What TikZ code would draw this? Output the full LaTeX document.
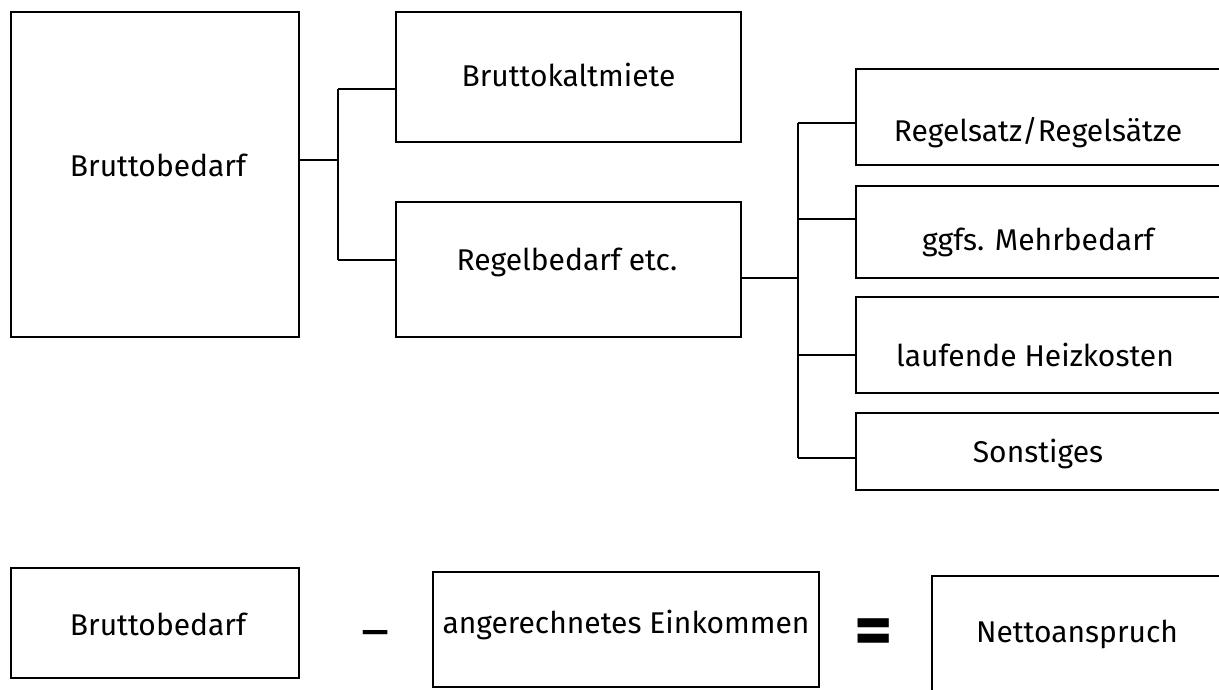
\documentclass[tikz,border=0pt]{standalone}
\usepackage{fontspec}
\setmainfont{Fira Sans}
\begin{document}
\begin{tikzpicture}[x=1pt,y=-1pt,
  box/.style={draw=black, line width=1.8pt, rectangle, inner sep=0pt},
  lbl/.style={font=\fontsize{30}{34}\selectfont, inner sep=0pt},
  conn/.style={draw=black, line width=1.8pt}]
\useasboundingbox (0,0) rectangle (1219,689);
% top tree
\node[box, minimum width=288pt, minimum height=325pt] (big) at (155,174.5) {};
\node[lbl] (bigt) at (158,165) {Bruttobedarf};
\node[box, minimum width=345pt, minimum height=130pt] (bk) at (568.5,77) {};
\node[lbl] (bkt) at (568.5,75) {Bruttokaltmiete};
\node[box, minimum width=345pt, minimum height=135pt] (rb) at (568.5,269.5) {};
\node[lbl] (rbt) at (567,262) {Regelbedarf etc.};
\node[box, minimum width=369pt, minimum height=96pt] (r1) at (1040.5,117) {};
\node[lbl] (r1t) at (1038,133) {Regelsatz/Regelsätze};
\node[box, minimum width=369pt, minimum height=92pt] (r2) at (1040.5,232) {};
\node[lbl] (r2t) at (1038,242) {ggfs. Mehrbedarf};
\node[box, minimum width=369pt, minimum height=96pt] (r3) at (1040.5,345) {};
\node[lbl] (r3t) at (1035,355) {laufende Heizkosten};
\node[box, minimum width=369pt, minimum height=77pt] (r4) at (1040.5,451.5) {};
\node[lbl] (r4t) at (1038,454) {Sonstiges};
% connectors left
\coordinate (j1) at (338,160);
\coordinate (j1t) at (338,89);
\coordinate (j1b) at (338,260);
\draw[conn] (j1 -| big.east) -- (j1);
\draw[conn] (j1t) -- (j1b);
\draw[conn] (j1t) -- (j1t -| bk.west);
\draw[conn] (j1b) -- (j1b -| rb.west);
% connectors right
\coordinate (j2) at (798,278);
\coordinate (k1) at (798,123);
\coordinate (k2) at (798,219);
\coordinate (k3) at (798,355);
\coordinate (k4) at (798,458);
\draw[conn] (j2 -| rb.east) -- (j2);
\draw[conn] (k1) -- (k4);
\draw[conn] (k1) -- (k1 -| r1.west);
\draw[conn] (k2) -- (k2 -| r2.west);
\draw[conn] (k3) -- (k3 -| r3.west);
\draw[conn] (k4) -- (k4 -| r4.west);
% bottom equation
\node[box, minimum width=288pt, minimum height=110pt] (b1) at (155,623) {};
\node[lbl] (b1t) at (158,624) {Bruttobedarf};
\node[font=\fontsize{54}{58}\selectfont, inner sep=0pt] (minus) at (375.5,640) {–};
\node[box, minimum width=386pt, minimum height=115pt] (b2) at (626,629.5) {};
\node[lbl] (b2t) at (626,625) {angerechnetes Einkommen};
\node[font=\fontsize{74}{78}\selectfont\bfseries, inner sep=0pt] (eq) at (874,637.5) {=};
\node[box, minimum width=293pt, minimum height=124pt] (b3) at (1078.5,638) {};
\node[lbl] (b3t) at (1077,634) {Nettoanspruch};
\end{tikzpicture}
\end{document}
